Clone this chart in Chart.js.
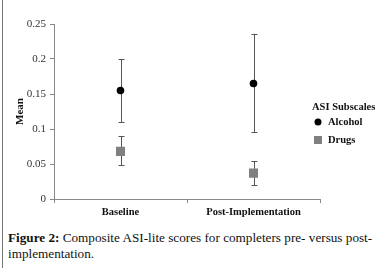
<!DOCTYPE html>
<html>
<head>
<meta charset="utf-8">
<script src="https://cdn.jsdelivr.net/npm/chart.js@4/dist/chart.umd.min.js"></script>
<style>
  body { margin: 0; background: #fff; width: 385px; height: 272px; overflow: hidden; position: relative; }
  #frame { position: absolute; left: 2px; top: 0; width: 0; height: 268px; border-left: 1px solid #777; }
  #wrap { position: absolute; left: 0; top: 0; width: 385px; height: 225px; }
  #caption { position: absolute; left: 8px; top: 230px; width: 375px; font-family: "Liberation Serif", serif; font-size: 13.2px; line-height: 16px; color: #111; }
  #caption b { font-weight: bold; }
</style>
</head>
<body>
<div id="frame"></div>
<div id="wrap"><canvas id="chart"></canvas></div>
<div id="caption"><b>Figure 2:</b> Composite ASI-lite scores for completers pre- versus post-implementation.</div>
<script>
// Values
const categories = ['Baseline', 'Post-Implementation'];
const alcoholMean = [0.155, 0.165];
const alcoholLow = [0.11, 0.096];
const alcoholHigh = [0.2, 0.236];
const drugsMean = [0.068, 0.037];
const drugsLow = [0.048, 0.02];
const drugsHigh = [0.09, 0.054];
const yTicks = [0, 0.05, 0.1, 0.15, 0.2, 0.25];

const serif = '"Liberation Serif", serif';

// Error bars drawn through the y scale
const errorBars = {
    id: 'errorBars',
    beforeDatasetsDraw(chart) {
        const ctx = chart.ctx;
        const x = chart.scales.x, y = chart.scales.y;
        ctx.save();
        ctx.strokeStyle = '#555';
        ctx.lineWidth = 1;
        chart.data.datasets.forEach(ds => {
            ds.low.forEach((lo, i) => {
                const px = Math.round(x.getPixelForValue(i)) + 0.5;
                const top = y.getPixelForValue(ds.high[i]);
                const bot = y.getPixelForValue(lo);
                ctx.beginPath();
                ctx.moveTo(px, top); ctx.lineTo(px, bot);
                ctx.moveTo(px - 3, Math.round(top) + 0.5); ctx.lineTo(px + 3, Math.round(top) + 0.5);
                ctx.moveTo(px - 3, Math.round(bot) + 0.5); ctx.lineTo(px + 3, Math.round(bot) + 0.5);
                ctx.stroke();
            });
        });
        ctx.restore();
    }
};

// Legend block to the right of the plot
const sideLegend = {
    id: 'sideLegend',
    afterDraw(chart) {
        const ctx = chart.ctx;
        ctx.save();
        ctx.fillStyle = '#111';
        ctx.textBaseline = 'middle';
        ctx.font = 'bold 10.5px ' + serif;
        ctx.fillText('ASI Subscales', 312, 107);
        const rows = [122, 140];
        chart.data.datasets.forEach((ds, i) => {
            const yy = rows[i];
            ctx.fillStyle = ds.backgroundColor;
            if (ds.pointStyle === 'rect') {
                ctx.fillRect(314, yy - 4, 8, 8);
            } else {
                ctx.beginPath();
                ctx.arc(318, yy, 3.5, 0, Math.PI * 2);
                ctx.fill();
            }
            ctx.fillStyle = '#111';
            ctx.fillText(ds.label, 328, yy);
        });
        ctx.restore();
    }
};

function drawChart() {
    new Chart(document.getElementById('chart'), {
        type: 'line',
        data: {
            labels: categories,
            datasets: [
                {
                    label: 'Alcohol',
                    data: alcoholMean, low: alcoholLow, high: alcoholHigh,
                    showLine: false,
                    pointStyle: 'circle',
                    pointRadius: 3.8,
                    backgroundColor: '#000',
                    borderColor: '#000',
                    pointBorderWidth: 0
                },
                {
                    label: 'Drugs',
                    data: drugsMean, low: drugsLow, high: drugsHigh,
                    showLine: false,
                    pointStyle: 'rect',
                    pointRadius: 6.4,
                    backgroundColor: '#808080',
                    borderColor: '#808080',
                    pointBorderWidth: 0
                }
            ]
        },
        options: {
            responsive: true,
            maintainAspectRatio: false,
            animation: false,
            layout: { padding: { top: 24, right: 65, left: 14, bottom: 0 } },
            plugins: {
                legend: { display: false },
                tooltip: { enabled: false }
            },
            scales: {
                x: {
                    offset: true,
                    grid: { offset: true, drawOnChartArea: false, drawTicks: true, tickLength: 4, color: '#888' },
                    border: { color: '#888' },
                    ticks: { color: '#111', font: { family: serif, size: 10.5, weight: 'bold' }, padding: 3 },
                    afterFit(scale) { scale.height = 26; }
                },
                y: {
                    min: 0,
                    max: 0.25,
                    afterBuildTicks(scale) { scale.ticks = yTicks.map(v => ({ value: v })); },
                    grid: { drawOnChartArea: false, drawTicks: true, tickLength: 4, color: '#888' },
                    border: { color: '#888' },
                    ticks: {
                        color: '#333',
                        font: { family: serif, size: 11 },
                        padding: 4,
                        callback: v => String(v)
                    },
                    title: { display: true, text: 'Mean', color: '#111', font: { family: serif, size: 11, weight: 'bold' }, padding: { top: 0, bottom: 4 } },
                    afterFit(scale) { scale.width = 40; }
                }
            }
        },
        plugins: [errorBars, sideLegend]
    });
}

// make sure the serif face is ready before the canvas draws text
Promise.all([
    document.fonts.load('11px "Liberation Serif"'),
    document.fonts.load('bold 11px "Liberation Serif"')
]).then(drawChart, drawChart);
</script>
</body>
</html>
